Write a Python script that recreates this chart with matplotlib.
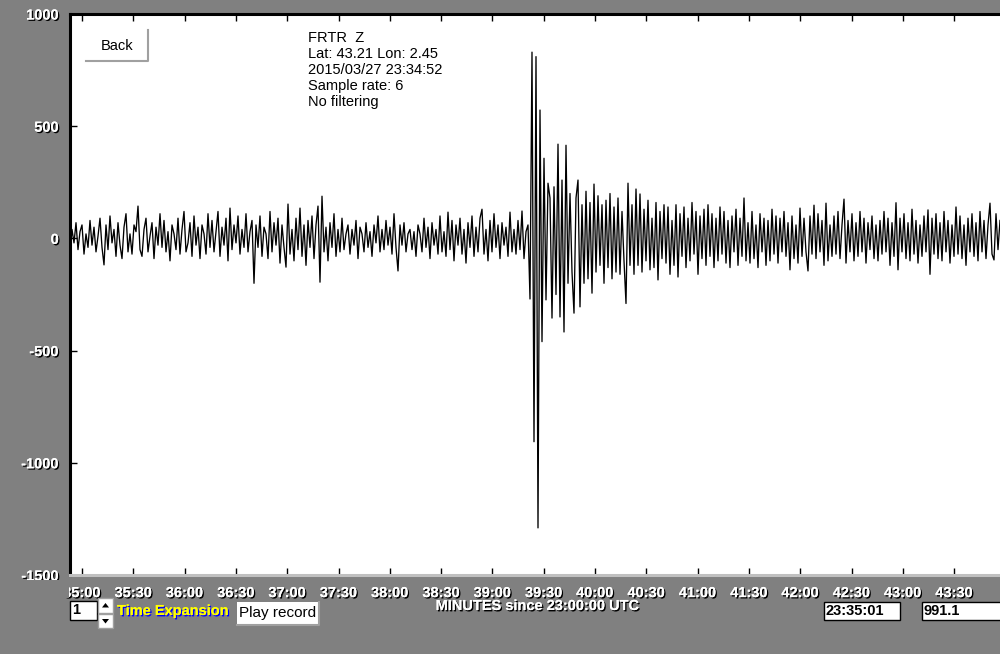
import numpy as np
import matplotlib
matplotlib.use('Agg')
import matplotlib.pyplot as plt
from matplotlib.patches import Rectangle, Polygon
import matplotlib.patheffects as pe
from matplotlib.transforms import Affine2D

# ---------------- data ----------------
amplitude = [
    # pre-event noise
    -60, 40, -20, 70, -50, 30, 60, -70, 20, -40,
    80, -30, 50, -60, 10, 90, -40, -118, 60, -50,
    100, -20, 40, -80, 70, -30, -90, 50, 110, -60,
    20, -70, 60, 30, 144, -50, -80, 40, 90, -60,
    10, 70, -90, 50, -30, 110, -40, 80, -60, 30,
    -100, 60, 20, -50, 90, -70, 40, 120, -60, -20,
    70, -80, 100, -30, 50, -90, 60, 20, -70, 110,
    -40, 80, -60, 30, 120, -80, 50, -30, 90, -100,
    135, -50, 60, -20, 100, -70, 40, -40, 110, -60,
    30, 80, -200, 60, -40, 100, -80, 50, 20, -90,
    120, -60, 70, -30, 90, -110, 60, -40, -128, 153,
    -70, 40, -100, 90, -50, 135, -80, 60, -120, 80,
    -40, 100, -90, 60, 144, -195, 188, -60, 50, -100,
    70, -40, 110, -80, 40, -60, 90, -50, 20, 60,
    -70, 40, -30, 80, -90, 50, 20, -60, 70, -40,
    30, -80, 60, -20, 100, -60, 40, -50, 80, -30,
    50, -70, 110, -40, -145, 60, -30, 70, -60, 20,
    40, -50, 30, -80, 60, 20, -60, 90, -40, 50,
    -90, 70, -30, 40, -70, 100, -60, 30, -80, 117,
    -50, 80, -100, 60, -30, 90, -70, 40, -110, 70,
    -40, 100, -80, 50, -60, 90, 130, -70, 40, -100,
    80, -60, 110, -40, 60, -90, 70, -30, 50, -80,
    117, -60, 40, -70, 80, -50, 122, -90, 30, 60,
    # event
    -270, 830, -906, 810, -1290, 572, -460, 357, -274, 246,
    180, -355, 230, -250, 420, -350, 260, -417, 415, -200,
    200, -150, -333, 180, 260, -305, 150, -200, 210, -180,
    160, -244, 242, -150, 190, -120, 150, -200, 170, -130,
    200, -180, 140, -150, 180, -160, 120, -100, -290, 246,
    -120, 150, -160, 220,
    # coda
    -120, 198, -150, 130, -100, 170, -140, 90, -130, 160,
    -185, 120, -90, 150, -110, 140, -160, 80, -120, 150,
    -172, 110, -80, 140, -130, 90, -100, 160, -70, 120,
    -160, 100, -90, 130, -120, 150, -80, 110, -130, 90,
    -100, 140, -70, 120, -110, 80, -130, 100, -60, 130,
    -120, 90, -80, 180, -100, 70, -110, 120, -90, 60,
    -130, 110, -60, 90, -120, 80, -100, 130, -70, 100,
    -110, 90, -60, 120, -80, 70, -140, 100, -90, 60,
    -110, 135, -80, 90, -60, -145, 100, -70, 148, -90,
    110, -60, 80, -120, 157, -100, 60, -80, 100, -70,
    120, -90, 60, 175, -110, 80, -60, 110, -100, 70,
    -80, 120, -60, 90, -110, 70, -50, 100, -90, 60,
    -100, 80, -70, 120, -60, 90, -120, 70, -80, 159,
    -140, 90, -60, 110, -90, 70, -100, 130, -70, 80,
    -110, 60, -80, 100, -60, 127, -160, 90, -70, 110,
    -90, 70, -100, 120, -60, 80, -110, 60, -80, 140,
    -70, 100, -90, 60, -120, 90, -60, 110, -80, 70,
    -100, 120, -60, 80, -90, 60, 157, -70, -96, 110, -50, 80,
]
t_start_min = 34.883   # minutes since 23:00:00 UTC
t_end_min = 43.947

y_ticks = [1000, 500, 0, -500, -1000, -1500]
y_tick_labels = ['1000', '500', '0', '-500', '-1000', '-1500']
x_ticks = [35.0, 35.5, 36.0, 36.5, 37.0, 37.5, 38.0, 38.5, 39.0,
           39.5, 40.0, 40.5, 41.0, 41.5, 42.0, 42.5, 43.0, 43.5]
x_tick_labels = ['35:00', '35:30', '36:00', '36:30', '37:00', '37:30', '38:00',
                 '38:30', '39:00', '39:30', '40:00', '40:30', '41:00', '41:30',
                 '42:00', '42:30', '43:00', '43:30']
info_lines = ['FRTR  Z', 'Lat: 43.21 Lon: 2.45', '2015/03/27 23:34:52',
              'Sample rate: 6', 'No filtering']
x_title = 'MINUTES since 23:00:00 UTC'
cursor_time = '23:35:01'
cursor_value = '991.1'
expansion = '1'

# ---------------- figure ----------------
W, H = 1000, 654
GRAY = '#808080'
fig = plt.figure(figsize=(W / 100, H / 100), dpi=100, facecolor=GRAY)
px = Affine2D().scale(1 / W, -1 / H).translate(0, 1) + fig.transFigure

ax = fig.add_axes([70 / W, 1 - 575 / H, 930 / W, 561 / H])
ax.set_facecolor('white')

t = np.linspace(t_start_min, t_end_min, len(amplitude))
ax.plot(t, amplitude, color='black', lw=0.95, antialiased=True)
ax.set_xlim(t_start_min, t_end_min)
ax.set_ylim(-1500, 1000)

FONT = 'Liberation Sans'
shadow = [pe.withSimplePatchShadow(offset=(1, -1), shadow_rgbFace='black', alpha=1.0), pe.Normal()]

ax.set_yticks(y_ticks)
ax.set_yticklabels(y_tick_labels)
ax.set_xticks(x_ticks)
ax.set_xticklabels(x_tick_labels)
ax.tick_params(axis='y', direction='in', length=5, width=1, color='black', pad=8,
               left=True, right=False)
ax.tick_params(axis='x', direction='in', length=5, width=1, color='black', pad=8,
               top=True, bottom=True)
for lab in ax.get_xticklabels() + ax.get_yticklabels():
    lab.set_fontfamily(FONT)
    lab.set_fontweight('bold')
    lab.set_fontsize(10.5)
    lab.set_color('white')
    lab.set_path_effects(shadow)

ax.spines['right'].set_visible(False)
ax.spines['left'].set_linewidth(2.2)
ax.spines['top'].set_linewidth(2.2)
ax.spines['bottom'].set_color('#c0c0c0')
ax.spines['bottom'].set_linewidth(2.2)

# info text block
for k, line in enumerate(info_lines):
    fig.text(308, 38 + 16 * k, line, transform=px, fontsize=10.5, family=FONT,
             color='black', va='center', ha='left')

def button(x0, y0, x1, y1, label, fs=10, weight='normal'):
    fig.add_artist(Rectangle((x0, y0), x1 - x0, y1 - y0, transform=px,
                             facecolor='white', edgecolor='none', zorder=5))
    fig.add_artist(plt.Line2D([x0, x1, x1], [y1, y1, y0], transform=px,
                              color='#a0a0a0', lw=1.5, zorder=6))
    fig.text((x0 + x1) / 2, (y0 + y1) / 2, label, transform=px, fontsize=fs,
             family=FONT, weight=weight, color='black', ha='center', va='center', zorder=7)

button(86, 30, 148, 61, 'Back', fs=10.5)

# cover the left part of the first x label (clipped at the axis edge in the original)
fig.add_artist(Rectangle((0, 580), 69, 18, transform=px, facecolor=GRAY,
                         edgecolor='none', zorder=20))

def box(x0, y0, x1, y1, label):
    fig.add_artist(Rectangle((x0, y0), x1 - x0, y1 - y0, transform=px,
                             facecolor='white', edgecolor='black', lw=1, zorder=5))
    fig.text(x0 + 2, (y0 + y1) / 2, label, transform=px, fontsize=10.5,
             family=FONT, weight='bold', color='black', ha='left', va='center', zorder=7)

box(70, 601, 97, 620, expansion)
box(824, 602, 900, 620, cursor_time)
box(922, 602, 1003, 620, cursor_value)

# spinner
for (y0, y1, up) in [(598, 613, True), (614, 628, False)]:
    fig.add_artist(Rectangle((98, y0), 15, y1 - y0, transform=px, facecolor='white',
                             edgecolor='#a0a0a0', lw=1, zorder=5))
    cx, cy = 105.5, (y0 + y1) / 2
    if up:
        tri = [(cx - 3.5, cy + 2), (cx + 3.5, cy + 2), (cx, cy - 2.5)]
    else:
        tri = [(cx - 3.5, cy - 2), (cx + 3.5, cy - 2), (cx, cy + 2.5)]
    fig.add_artist(Polygon(tri, closed=True, transform=px, facecolor='black',
                           edgecolor='none', zorder=6))

fig.text(117, 611, 'Time Expansion', transform=px, fontsize=10.5, family=FONT,
         weight='bold', color='#ffff00', ha='left', va='center', zorder=7,
         path_effects=[pe.withSimplePatchShadow(offset=(1, -1), shadow_rgbFace='#0000ff', alpha=1.0), pe.Normal()])

button(237, 602, 319, 625, 'Play record', fs=11)

fig.text(538, 606, x_title, transform=px, fontsize=10.5, family=FONT,
         weight='bold', color='white', ha='center', va='center', zorder=7,
         path_effects=shadow)

fig.savefig('out.png', dpi=100, facecolor=GRAY)
